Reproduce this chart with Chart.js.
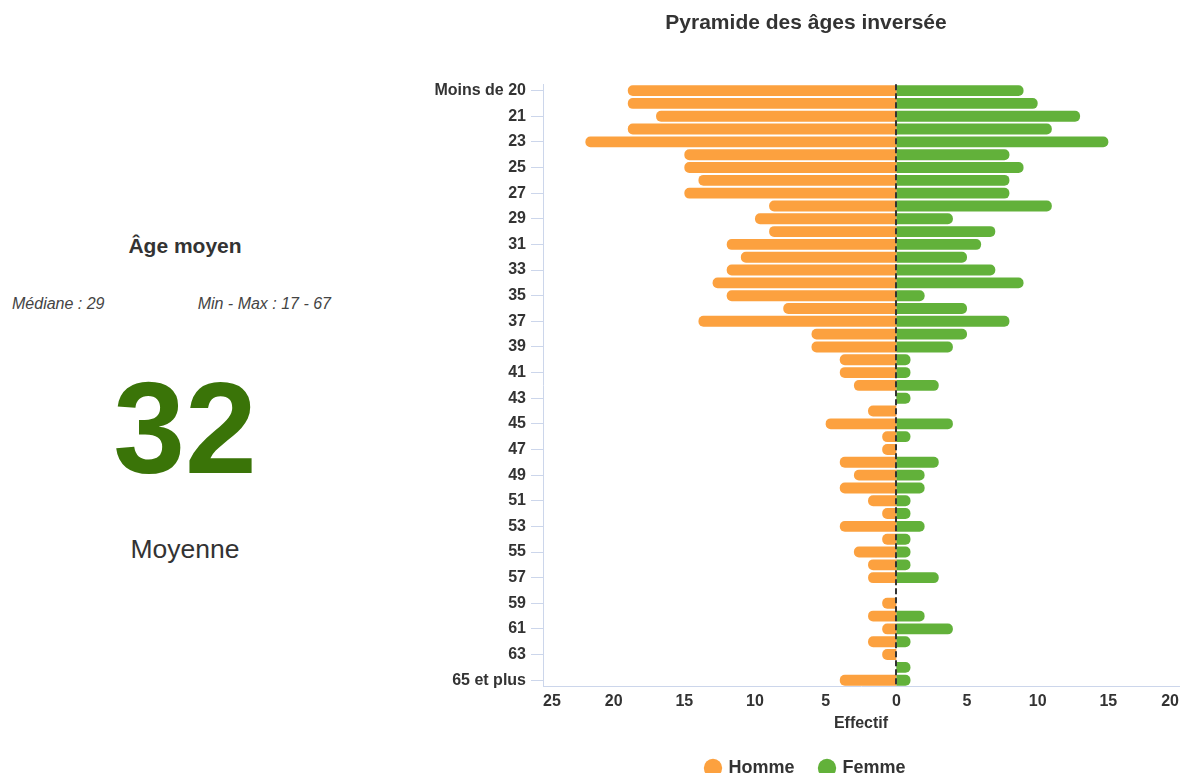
<!DOCTYPE html>
<html lang="fr">
<head>
<meta charset="utf-8">
<title>Pyramide des âges inversée</title>
<script src="https://cdn.jsdelivr.net/npm/chart.js@4.4.1/dist/chart.umd.min.js"></script>
<style>
  html, body { margin: 0; padding: 0; background: #fff; }
  body { width: 1184px; height: 773px; overflow: hidden; position: relative;
         font-family: "Liberation Sans", Arial, sans-serif; color: #333; }
  .kpi { position: absolute; left: 0; width: 370px; text-align: center; white-space: nowrap; }
  #kpi-title { top: 236px; font-size: 21px; line-height: 20px; font-weight: bold; }
  #kpi-value { top: 364px; font-size: 129px; line-height: 129px; font-weight: bold; color: #3a7408; }
  #kpi-label { top: 536px; font-size: 26.5px; line-height: 26px; }
  .sub { position: absolute; top: 296px; font-size: 16px; line-height: 16px; font-style: italic; color: #444; white-space: nowrap; }
  #median { left: 12px; }
  #range { right: 853px; }
  #pyramid { position: absolute; left: 430px; top: 0; }
</style>
</head>
<body>
<div class="kpi" id="kpi-title">Âge moyen</div>
<div class="sub" id="median">Médiane : 29</div>
<div class="sub" id="range">Min - Max : 17 - 67</div>
<div class="kpi" id="kpi-value">32</div>
<div class="kpi" id="kpi-label">Moyenne</div>
<canvas id="pyramid" width="754" height="787"></canvas>
<script>
// Age classes, youngest at the top
const ageClasses = [
  'Moins de 20', '20', '21', '22', '23', '24', '25', '26', '27', '28', '29',
  '30', '31', '32', '33', '34', '35', '36', '37', '38', '39',
  '40', '41', '42', '43', '44', '45', '46', '47', '48', '49',
  '50', '51', '52', '53', '54', '55', '56', '57', '58', '59',
  '60', '61', '62', '63', '64', '65 et plus'
];

// Head counts per age class
const hommeCounts = [
  19, 19, 17, 19, 22, 15, 15, 14, 15, 9,
  10, 9, 12, 11, 12, 13, 12, 8, 14, 6,
  6, 4, 4, 3, 0, 2, 5, 1, 1, 4,
  3, 4, 2, 1, 4, 1, 3, 2, 2, 0,
  1, 2, 1, 2, 1, 0, 4
];
const femmeCounts = [
  9, 10, 13, 11, 15, 8, 9, 8, 8, 11,
  4, 7, 6, 5, 7, 9, 2, 5, 8, 5,
  4, 1, 1, 3, 1, 0, 4, 1, 0, 3,
  2, 2, 1, 1, 2, 1, 1, 1, 3, 0,
  0, 2, 4, 1, 0, 1, 1
];

// Value axis bounds and step
const xMin = -25;
const xMax = 20;
const xStep = 5;

const seriesNames = ['Homme', 'Femme'];
const seriesColors = ['#fca13f', '#62b13a'];

const FONT = '"Liberation Sans", Arial, sans-serif';
const AXIS_COLOR = '#ccd6eb';
const TEXT_COLOR = '#333333';

// Dashed reference line at zero
const zeroLine = {
  id: 'zeroLine',
  afterDatasetsDraw(chart) {
    const { ctx, chartArea, scales } = chart;
    const x = Math.round(scales.x.getPixelForValue(0));
    ctx.save();
    ctx.strokeStyle = '#333333';
    ctx.lineWidth = 2;
    ctx.setLineDash([6, 3]);
    ctx.beginPath();
    ctx.moveTo(x, chartArea.top);
    ctx.lineTo(x, chartArea.bottom);
    ctx.stroke();
    ctx.restore();
  }
};

new Chart(document.getElementById('pyramid'), {
  type: 'bar',
  data: {
    labels: ageClasses,
    datasets: [
      {
        label: seriesNames[0],
        data: hommeCounts.map(v => -v),
        backgroundColor: seriesColors[0],
        borderRadius: 5,
        borderSkipped: 'start'
      },
      {
        label: seriesNames[1],
        data: femmeCounts,
        backgroundColor: seriesColors[1],
        borderRadius: 5,
        borderSkipped: 'start'
      }
    ]
  },
  options: {
    indexAxis: 'y',
    responsive: false,
    devicePixelRatio: 1,
    animation: false,
    barPercentage: 0.85,
    categoryPercentage: 1.0,
    layout: { padding: { left: 0, right: 2, top: 0, bottom: 0 } },
    scales: {
      x: {
        stacked: true,
        min: xMin,
        max: xMax,
        grid: { display: false, drawTicks: false },
        border: { display: true, color: AXIS_COLOR, width: 1 },
        ticks: {
          stepSize: xStep,
          align: 'inner',
          padding: 5,
          color: TEXT_COLOR,
          font: { family: FONT, size: 16, weight: 'bold' },
          callback: v => String(Math.abs(v))
        },
        title: {
          display: true,
          text: 'Effectif',
          color: TEXT_COLOR,
          font: { family: FONT, size: 16, weight: 'bold' },
          padding: { top: -2, bottom: 0 }
        }
      },
      y: {
        stacked: true,
        afterFit: scale => { scale.width = 113; },
        grid: {
          display: true,
          drawOnChartArea: false,
          drawTicks: true,
          tickLength: 12,
          offset: false,
          color: c => (c.index % 2 === 0 ? AXIS_COLOR : 'rgba(0,0,0,0)')
        },
        border: { display: true, color: AXIS_COLOR, width: 1 },
        ticks: {
          autoSkip: false,
          padding: 5,
          color: TEXT_COLOR,
          font: { family: FONT, size: 16, weight: 'bold' },
          callback: (v, i) => (i % 2 === 0 ? ageClasses[i] : '')
        }
      }
    },
    plugins: {
      title: {
        display: true,
        text: 'Pyramide des âges inversée',
        color: TEXT_COLOR,
        font: { family: FONT, size: 21, weight: 'bold' },
        padding: { top: 11, bottom: 48 }
      },
      legend: {
        position: 'bottom',
        labels: {
          usePointStyle: true,
          pointStyle: 'circle',
          boxWidth: 13,
          boxHeight: 13,
          padding: 26,
          color: TEXT_COLOR,
          font: { family: FONT, size: 18, weight: 'bold' }
        }
      },
      tooltip: { enabled: false }
    }
  },
  plugins: [zeroLine]
});
</script>
</body>
</html>
